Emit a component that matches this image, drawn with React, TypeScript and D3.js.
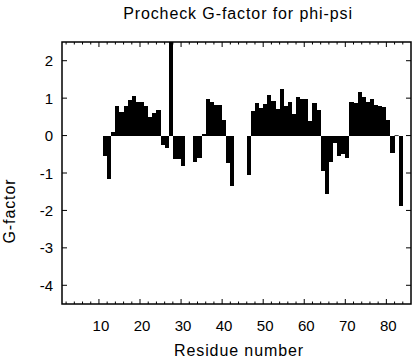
import React, { useEffect, useRef } from "react";
import * as d3 from "d3";

// residue numbers and procheck g-factor values
const residues = [
  11, 12, 13, 14, 15, 16, 17, 18, 19, 20, 21, 22, 23, 24, 25, 26, 27, 28, 29, 30,
  31, 32, 33, 34, 35, 36, 37, 38, 39, 40, 41, 42, 43, 44, 45, 46, 47, 48, 49, 50,
  51, 52, 53, 54, 55, 56, 57, 58, 59, 60, 61, 62, 63, 64, 65, 66, 67, 68, 69, 70,
  71, 72, 73, 74, 75, 76, 77, 78, 79, 80, 81, 82, 83,
];
const gfactor = [
  -0.55, -1.17, 0.09, 0.78, 0.64, 0.8, 0.95, 1.06, 0.9, 0.9, 0.78, 0.5, 0.6, 0.68, -0.25, -0.34, 2.5, -0.62, -0.62, -0.81,
  0, 0, -0.7, -0.6, 0.04, 0.97, 0.91, 0.82, 0.82, 0.42, -0.74, -1.34, 0, 0, 0, -1.05, 0.66, 0.87, 0.75, 0.84,
  1.09, 0.93, 0.72, 1.25, 0.78, 0.89, 0.58, 1.04, 0.97, 0.97, 0.38, 0.87, 0.67, -0.95, -1.57, -0.71, -0.21, -0.55, -0.5, -0.59,
  0.89, 0.87, 1.16, 1.02, 0.91, 0.97, 0.82, 0.8, 0.76, 0.42, -0.46, 0, -1.87,
];
const xTickLabels = [10, 20, 30, 40, 50, 60, 70, 80];
const yTickLabels = [-4, -3, -2, -1, 0, 1, 2];

const data = residues.map((r, i) => ({ residue: r, value: gfactor[i] }));

const width = 416;
const height = 360;
const margin = { top: 42, right: 5, bottom: 56, left: 62 };
const font = "'Liberation Sans', Arial, Helvetica, sans-serif";

export default function App() {
  const ref = useRef<SVGSVGElement>(null);

  useEffect(() => {
    const svg = d3.select(ref.current);
    svg.selectAll("*").remove();

    const x = d3.scaleLinear().domain([1, 86]).range([margin.left, width - margin.right]);
    const y = d3.scaleLinear().domain([-4.5, 2.5]).range([height - margin.bottom, margin.top]);
    const top = margin.top;
    const bottom = height - margin.bottom;
    const left = margin.left;
    const right = width - margin.right;

    svg.append("rect").attr("width", width).attr("height", height).attr("fill", "#fff");

    // bars, each residue spans [r, r+1]
    svg.append("g")
      .attr("shape-rendering", "crispEdges")
      .selectAll("rect")
      .data(data.filter(d => d.value !== 0))
      .join("rect")
      .attr("x", d => x(d.residue))
      .attr("width", d => x(d.residue + 1) - x(d.residue))
      .attr("y", d => y(Math.max(0, d.value)))
      .attr("height", d => Math.abs(y(d.value) - y(0)))
      .attr("fill", "#000");

    // residue 82 sits right on zero
    svg.append("g")
      .selectAll("line")
      .data(data.filter(d => d.value === 0 && d.residue === 82))
      .join("line")
      .attr("x1", d => x(d.residue))
      .attr("x2", d => x(d.residue + 1))
      .attr("y1", y(0))
      .attr("y2", y(0))
      .attr("stroke", "#000")
      .attr("stroke-width", 0.8);

    // ticks (inward, all four sides)
    const ticks = svg.append("g").attr("stroke", "#000").attr("stroke-width", 1);
    const minor = d3.range(2, 86, 2);
    minor.forEach(v => {
      const len = v % 10 === 0 ? 5 : 2.5;
      ticks.append("line").attr("x1", x(v)).attr("x2", x(v)).attr("y1", bottom).attr("y2", bottom - len);
      ticks.append("line").attr("x1", x(v)).attr("x2", x(v)).attr("y1", top).attr("y2", top + len);
    });
    yTickLabels.forEach(v => {
      ticks.append("line").attr("x1", left).attr("x2", left + 5).attr("y1", y(v)).attr("y2", y(v));
      ticks.append("line").attr("x1", right).attr("x2", right - 5).attr("y1", y(v)).attr("y2", y(v));
    });

    // frame
    svg.append("rect")
      .attr("x", left)
      .attr("y", top)
      .attr("width", right - left)
      .attr("height", bottom - top)
      .attr("fill", "none")
      .attr("stroke", "#000")
      .attr("stroke-width", 1.5);

    // tick labels
    svg.append("g")
      .selectAll("text")
      .data(xTickLabels)
      .join("text")
      .attr("x", d => x(d) + 2)
      .attr("y", 331)
      .attr("text-anchor", "middle")
      .style("font-family", font)
      .style("font-size", "15px")
      .text(d => d);

    svg.append("g")
      .selectAll("text")
      .data(yTickLabels)
      .join("text")
      .attr("x", 53)
      .attr("y", d => y(d) + 5.5)
      .attr("text-anchor", "end")
      .style("font-family", font)
      .style("font-size", "15px")
      .text(d => d);

    // title and axis labels
    svg.append("text")
      .attr("x", 238)
      .attr("y", 19)
      .attr("text-anchor", "middle")
      .style("font-family", font)
      .style("font-size", "16px")
      .style("letter-spacing", "0.9px")
      .text("Procheck G-factor for phi-psi");

    svg.append("text")
      .attr("x", 239)
      .attr("y", 356)
      .attr("text-anchor", "middle")
      .style("font-family", font)
      .style("font-size", "16px")
      .style("letter-spacing", "0.9px")
      .text("Residue number");

    svg.append("text")
      .attr("transform", "translate(15, 211) rotate(-90)")
      .attr("text-anchor", "middle")
      .style("font-family", font)
      .style("font-size", "16px")
      .style("letter-spacing", "0.9px")
      .text("G-factor");
  }, []);

  return (
    <svg ref={ref} width={width} height={height} style={{ position: "absolute", left: 0, top: 0 }} />
  );
}
